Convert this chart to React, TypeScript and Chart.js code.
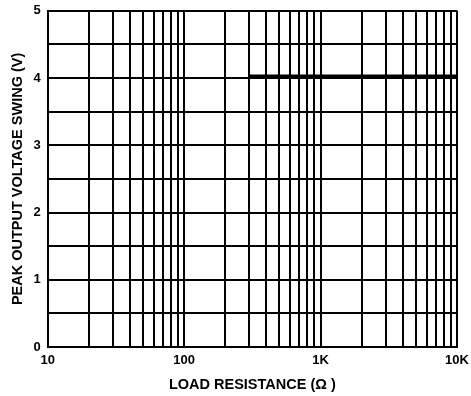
import React, { useEffect, useRef } from "react";
import { Chart, registerables } from "chart.js";

Chart.register(...registerables);

const xTickValues = [10, 20, 30, 40, 50, 60, 70, 80, 90, 100, 200, 300, 400, 500, 600, 700, 800, 900, 1000, 2000, 3000, 4000, 5000, 6000, 7000, 8000, 9000, 10000];
const xTickLabels: Record<number, string> = { 10: "10", 100: "100", 1000: "1K", 10000: "10K" };
const loadResistance = [300, 10000];
const peakSwing = [4.03, 4.03];

export default function App() {
  const ref = useRef<HTMLCanvasElement | null>(null);
  useEffect(() => {
    document.body.style.margin = "0";
    document.body.style.overflow = "hidden";
    const ctx = ref.current!;
    const font = "'Liberation Sans', Arial, sans-serif";
    const chart = new Chart(ctx, {
      type: "line",
      data: {
        datasets: [
          {
            data: loadResistance.map((x, i) => ({ x, y: peakSwing[i] })),
            borderColor: "#000",
            borderWidth: 3,
            pointRadius: 0,
            fill: false,
          },
        ],
      },
      options: {
        animation: false,
        responsive: false,
        maintainAspectRatio: false,
        layout: { padding: { left: 9, right: 14, top: 2, bottom: 4 } },
        plugins: { legend: { display: false }, tooltip: { enabled: false } },
        scales: {
          x: {
            type: "logarithmic",
            min: 10,
            max: 10000,
            afterBuildTicks: (axis: any) => {
              axis.ticks = xTickValues.map((v) => ({ value: v }));
            },
            afterFit: (axis: any) => {
              axis.paddingRight = 0;
            },
            ticks: {
              autoSkip: false,
              maxRotation: 0,
              color: "#000",
              font: { family: font, size: 13, weight: "bold" },
              padding: 6,
              callback: (v: any) => xTickLabels[Number(v)] ?? "",
            },
            grid: { color: "#000", lineWidth: 2, drawTicks: false },
            border: { color: "#000", width: 2 },
            title: {
              display: true,
              text: "LOAD RESISTANCE (Ω )",
              color: "#000",
              font: { family: font, size: 14.5, weight: "bold" },
              padding: { top: 2, bottom: 0 },
            },
          },
          y: {
            min: 0,
            max: 5,
            ticks: {
              stepSize: 0.5,
              autoSkip: false,
              color: "#000",
              font: { family: font, size: 13, weight: "bold" },
              padding: 7,
              callback: (v: any) => (Number.isInteger(Number(v)) ? String(v) : ""),
            },
            grid: { color: "#000", lineWidth: 2, drawTicks: false },
            border: { color: "#000", width: 2 },
            title: {
              display: true,
              text: "PEAK OUTPUT VOLTAGE SWING (V)",
              color: "#000",
              font: { family: font, size: 14.5, weight: "bold" },
              padding: { top: 0, bottom: 0 },
            },
          },
        },
      },
    });
    return () => chart.destroy();
  }, []);
  return (
    <div style={{ width: 471, height: 396, background: "#fff", overflow: "hidden" }}>
      <canvas ref={ref} width={471} height={402} style={{ display: "block", marginTop: -4 }} />
    </div>
  );
}
